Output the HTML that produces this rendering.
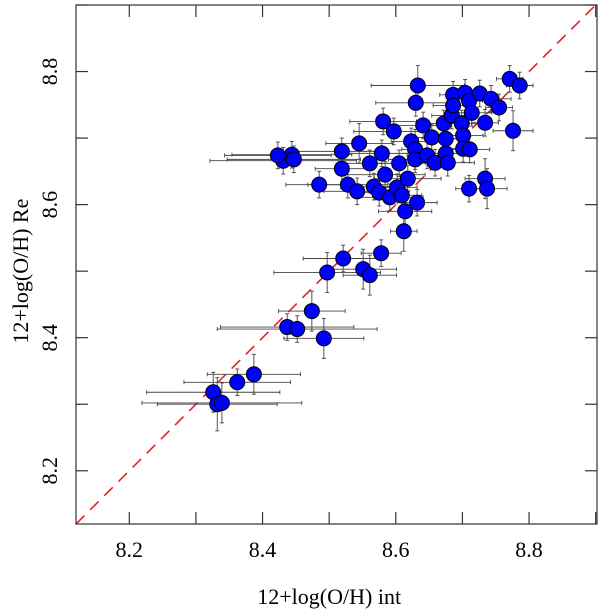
<!DOCTYPE html>
<html><head><meta charset="utf-8"><style>
html,body{margin:0;padding:0;background:#fff;}
svg{display:block;font-family:"Liberation Serif",serif;}
</style></head><body>
<svg id="chart" width="600" height="614" viewBox="0 0 600 614"></svg>
<script>
const xTicks=[8.2,8.4,8.6,8.8];
const yTicks=[8.2,8.4,8.6,8.8];
const xTickLabels=["8.2","8.4","8.6","8.8"];
const yTickLabels=["8.2","8.4","8.6","8.8"];
const xInt=[8.326,8.332,8.339,8.362,8.387,8.437,8.452,8.492,8.474,8.497,8.521,8.551,8.561,8.578,8.612,8.614,8.632,8.633,8.630,8.581,8.597,8.545,8.519,8.519,8.485,8.528,8.542,8.561,8.579,8.584,8.567,8.575,8.591,8.602,8.605,8.609,8.618,8.623,8.629,8.629,8.647,8.641,8.654,8.659,8.675,8.675,8.678,8.672,8.684,8.686,8.686,8.699,8.701,8.701,8.711,8.704,8.710,8.714,8.726,8.734,8.743,8.755,8.771,8.786,8.776,8.734,8.737,8.710,8.444,8.431,8.447,8.423];
const yRe=[8.318,8.300,8.302,8.333,8.345,8.416,8.413,8.399,8.440,8.498,8.519,8.503,8.494,8.527,8.560,8.590,8.603,8.779,8.753,8.725,8.710,8.692,8.680,8.654,8.630,8.630,8.620,8.662,8.677,8.645,8.627,8.618,8.611,8.626,8.662,8.614,8.639,8.695,8.683,8.668,8.674,8.719,8.701,8.663,8.699,8.677,8.663,8.722,8.734,8.765,8.749,8.722,8.704,8.684,8.683,8.768,8.756,8.738,8.767,8.723,8.759,8.746,8.789,8.779,8.711,8.639,8.624,8.624,8.675,8.666,8.668,8.674];
const xErr=[0.10,0.09,0.12,0.08,0.07,0.10,0.12,0.06,0.05,0.08,0.06,0.05,0.04,0.03,0.02,0.04,0.03,0.07,0.06,0.05,0.06,0.05,0.07,0.04,0.05,0.06,0.05,0.04,0.05,0.06,0.04,0.04,0.05,0.03,0.04,0.03,0.05,0.03,0.02,0.04,0.03,0.04,0.03,0.03,0.02,0.03,0.04,0.03,0.03,0.02,0.03,0.02,0.03,0.02,0.03,0.02,0.02,0.03,0.02,0.02,0.03,0.02,0.02,0.02,0.03,0.03,0.03,0.02,0.09,0.11,0.10,0.08];
const yErr=[0.03,0.04,0.03,0.02,0.03,0.02,0.02,0.03,0.03,0.03,0.02,0.03,0.03,0.02,0.03,0.03,0.02,0.03,0.02,0.02,0.02,0.03,0.02,0.03,0.02,0.02,0.02,0.02,0.02,0.02,0.02,0.02,0.02,0.02,0.02,0.03,0.02,0.02,0.03,0.02,0.02,0.02,0.02,0.02,0.02,0.02,0.02,0.02,0.02,0.02,0.02,0.02,0.02,0.02,0.02,0.02,0.02,0.02,0.02,0.02,0.02,0.02,0.02,0.02,0.03,0.03,0.03,0.02,0.02,0.02,0.02,0.02];

const L=76,R=597,T=5,B=524;
const dMin=8.12,dMax=8.902,yMax=8.9;
const sx=v=>L+(v-dMin)/(dMax-dMin)*(R-L);
const sy=v=>B-(v-dMin)/(yMax-dMin)*(B-T);
const svg=document.getElementById('chart');
const NS='http://www.w3.org/2000/svg';
function mk(tag,attrs,parent){const e=document.createElementNS(NS,tag);for(const k in attrs)e.setAttribute(k,attrs[k]);(parent||svg).appendChild(e);return e;}

// diagonal
const diag=mk('line',{x1:sx(dMin),y1:sy(dMin),x2:sx(yMax),y2:sy(yMax),stroke:'#e8202a','stroke-width':1.6,'stroke-dasharray':'12,8'});



// error bars
const eg=mk('g',{stroke:'#444','stroke-width':0.9});


for(let i=0;i<xInt.length;i++){
  const cx=sx(xInt[i]),cy=sy(yRe[i]);
  const x1=sx(xInt[i]-xErr[i]),x2=sx(xInt[i]+xErr[i]);
  const y1=sy(yRe[i]-yErr[i]),y2=sy(yRe[i]+yErr[i]);
  mk('line',{x1:x1,y1:cy,x2:x2,y2:cy},eg);
  mk('line',{x1:cx,y1:y1,x2:cx,y2:y2},eg);
  mk('line',{x1:x1,y1:cy-2,x2:x1,y2:cy+2},eg);
  mk('line',{x1:x2,y1:cy-2,x2:x2,y2:cy+2},eg);
  mk('line',{x1:cx-2,y1:y1,x2:cx+2,y2:y1},eg);
  mk('line',{x1:cx-2,y1:y2,x2:cx+2,y2:y2},eg);
}
// points
const pg=mk('g',{});


for(let i=0;i<xInt.length;i++){
  const c=mk('circle',{cx:sx(xInt[i]),cy:sy(yRe[i]),r:7.5,fill:'#0000ff',stroke:'#000','stroke-width':1},pg);
  
  
}
// frame
const fr=mk('rect',{x:L,y:T,width:R-L,height:B-T,fill:'none',stroke:'#333','stroke-width':1.2});


// ticks
const tg=mk('g',{stroke:'#333','stroke-width':1.2});


for(let v=8.2;v<8.95;v+=0.1){
  const x=sx(v),y=sy(v);
  if(x<R){mk('line',{x1:x,y1:B,x2:x,y2:B-12},tg);mk('line',{x1:x,y1:T,x2:x,y2:T+12},tg);}
  if(y>T){mk('line',{x1:L,y1:y,x2:L+12,y2:y},tg);mk('line',{x1:R,y1:y,x2:R-12,y2:y},tg);}
}
xTicks.forEach((v,i)=>{
  const t=mk('text',{x:sx(v),y:557,'font-size':22,'text-anchor':'middle',fill:'#000'});
  t.textContent=xTickLabels[i];
  
  
});
yTicks.forEach((v,i)=>{
  const t=mk('text',{x:0,y:0,'font-size':22,'text-anchor':'middle',fill:'#000',transform:`translate(${57},${sy(v)}) rotate(-90)`});
  t.textContent=yTickLabels[i];
  
  
});
const xt=mk('text',{x:sx(8.5),y:604,'font-size':22,'text-anchor':'middle',fill:'#000'});
xt.textContent='12+log(O/H) int';


const yt=mk('text',{x:0,y:0,'font-size':22,'text-anchor':'middle',fill:'#000',transform:`translate(28,${sy(8.5)}) rotate(-90)`});
yt.textContent='12+log(O/H) Re';


</script>
</body></html>
